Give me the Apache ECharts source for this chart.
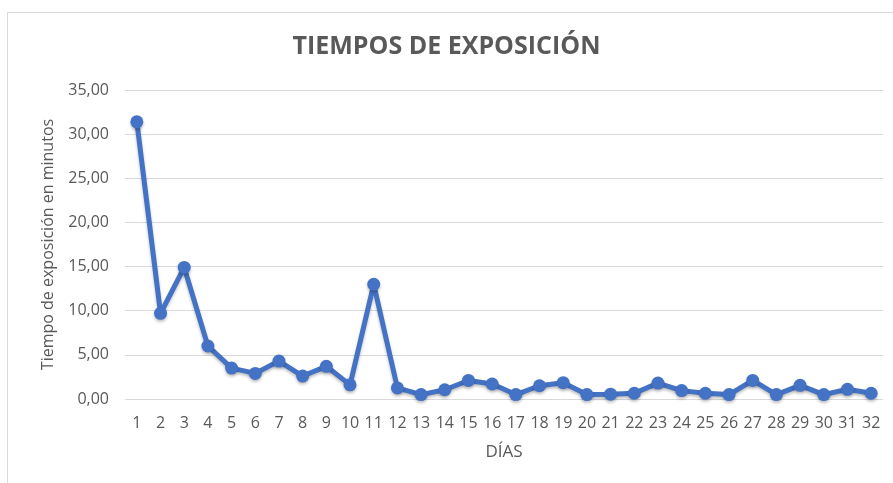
<!doctype html>
<html>
	<head>
		<meta charset="utf-8">
		<title>Tiempos de exposición</title>
		<style>
			html, body { margin: 0; padding: 0; background: #fff; }
			#main { width: 893px; height: 483px; }
		</style>
	</head>
	<body>
		<div id="main"></div>
		<script src="https://cdn.jsdelivr.net/npm/echarts@6/dist/echarts.min.js"></script>
		<script type="text/javascript">
			// días 1..32
			var dias = ['1', '2', '3', '4', '5', '6', '7', '8', '9', '10', '11', '12', '13', '14', '15', '16',
				'17', '18', '19', '20', '21', '22', '23', '24', '25', '26', '27', '28', '29', '30', '31', '32'];
			// tiempo de exposición en minutos
			var tiempos = [31.4, 9.7, 14.9, 6.0, 3.5, 2.9, 4.3, 2.6, 3.7, 1.6, 13.0, 1.25, 0.5, 1.05, 2.1, 1.7,
				0.5, 1.5, 1.85, 0.5, 0.55, 0.65, 1.8, 0.95, 0.65, 0.5, 2.1, 0.5, 1.55, 0.5, 1.1, 0.65];
			var yMin = 0, yMax = 35, yStep = 5;

			var chart = echarts.init(document.getElementById('main'));
			var option = {
				backgroundColor: '#fff',
				textStyle: { fontFamily: 'Open Sans' },
				title: {
					text: 'TIEMPOS DE EXPOSICIÓN',
					left: 'center',
					top: 29,
					textStyle: { color: '#595959', fontSize: 25, fontWeight: 'bold', fontFamily: 'Open Sans' }
				},
				graphic: [{
					type: 'rect',
					shape: { x: 7.5, y: 12.5, width: 900, height: 500 },
					style: { fill: 'none', stroke: '#d9d9d9', lineWidth: 1 },
					silent: true
				}],
				grid: { left: 125, right: 10, top: 90, bottom: 84 },
				xAxis: {
					type: 'category',
					data: dias,
					boundaryGap: true,
					name: 'DÍAS',
					nameLocation: 'middle',
					nameGap: 45,
					nameTextStyle: { color: '#595959', fontSize: 17 },
					axisLine: { show: false },
					axisTick: { show: false },
					axisLabel: { color: '#595959', fontSize: 16, margin: 16, interval: 0 }
				},
				yAxis: {
					type: 'value',
					min: yMin,
					max: yMax,
					interval: yStep,
					name: 'Tiempo de exposición en minutos',
					nameLocation: 'middle',
					nameGap: 69,
					nameTextStyle: { color: '#595959', fontSize: 16 },
					axisLine: { show: false },
					axisTick: { show: false },
					splitLine: { lineStyle: { color: '#d9d9d9', width: 1 } },
					axisLabel: {
						color: '#595959',
						fontSize: 16,
						margin: 16,
						formatter: function(v) { return v.toFixed(2).replace('.', ','); }
					}
				},
				series: [{
					type: 'line',
					data: tiempos,
					symbol: 'circle',
					symbolSize: 13,
					lineStyle: { color: '#4472c4', width: 5, shadowColor: 'rgba(0,0,0,0.25)', shadowBlur: 3, shadowOffsetY: 2 },
					itemStyle: { color: '#4472c4', shadowColor: 'rgba(0,0,0,0.25)', shadowBlur: 3, shadowOffsetY: 2 },
					animation: false
				}]
			};
			chart.setOption(option);
		</script>
	</body>
</html>
